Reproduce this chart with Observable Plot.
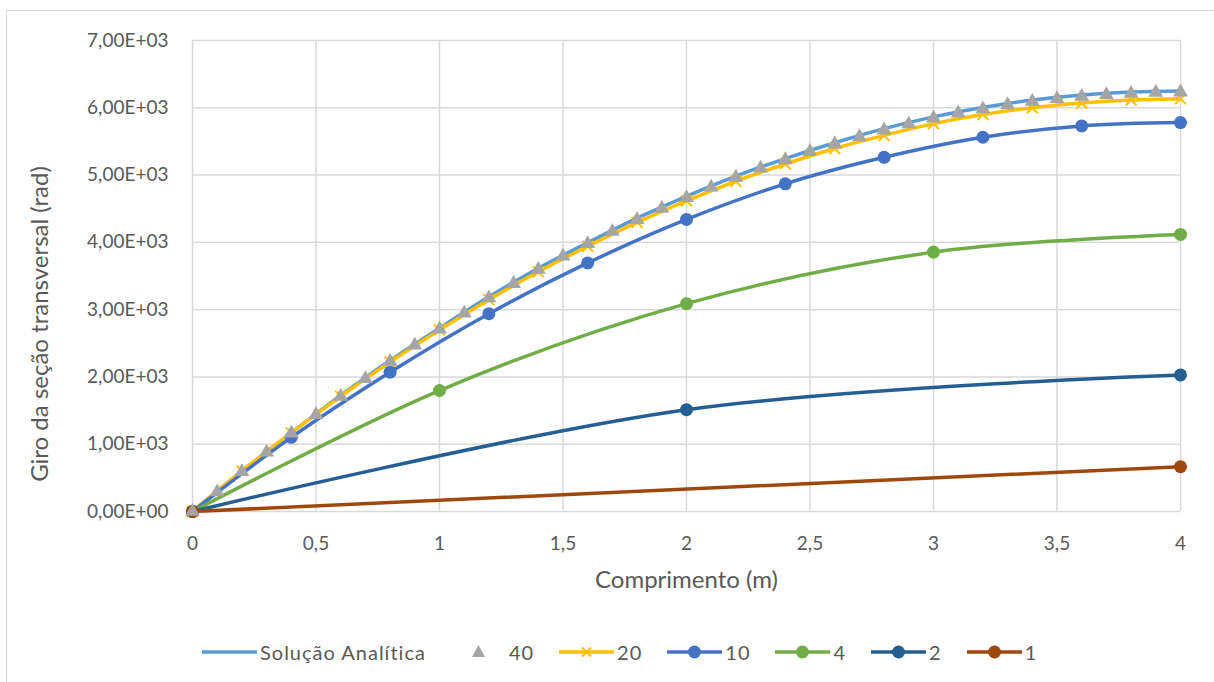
<!DOCTYPE html>
<html>
<head>
<meta charset="utf-8">
<script src="https://cdn.jsdelivr.net/npm/d3@7"></script>
<script src="https://cdn.jsdelivr.net/npm/@observablehq/plot@0.6"></script>
<style>
  html, body { margin: 0; padding: 0; background: #fff; overflow: hidden; }
  #wrap { position: relative; width: 1214px; height: 682px; font-family: Lato, "Open Sans", sans-serif; color: #595959; }
  #frame { position: absolute; left: 6px; top: 10px; width: 1400px; height: 900px; border: 1.5px solid #d9d9d9; box-sizing: border-box; }
  #chart { position: absolute; left: 0; top: 0; }
  #legend { position: absolute; left: 202px; top: 638px; height: 28px; display: flex; align-items: center; font-size: 20px; letter-spacing: 1px; color: #595959; white-space: nowrap; }
  .item { display: flex; align-items: center; margin-right: 25px; }
  .item svg { margin-right: 3px; }
</style>
</head>
<body>
<div id="wrap">
  <div id="frame"></div>
  <div id="chart"></div>
  <div id="legend"></div>
</div>
<script>
// ---------- data ----------
const xTicks = [0, 0.5, 1, 1.5, 2, 2.5, 3, 3.5, 4];
const yTicks = [0, 1000, 2000, 3000, 4000, 5000, 6000, 7000];

const xAnalitica = [0, 0.2, 0.4, 0.6, 0.8, 1.0, 1.2, 1.4, 1.6, 1.8, 2.0, 2.2, 2.4, 2.6, 2.8, 3.0, 3.2, 3.4, 3.6, 3.8, 4.0];
const yAnalitica = [0, 600, 1170, 1725, 2245, 2725, 3190, 3615, 3995, 4360, 4685, 4985, 5245, 5480, 5690, 5865, 6005, 6115, 6190, 6235, 6250];

const x40 = [0, 0.1, 0.2, 0.3, 0.4, 0.5, 0.6, 0.7, 0.8, 0.9, 1.0, 1.1, 1.2, 1.3, 1.4, 1.5, 1.6, 1.7, 1.8, 1.9, 2.0,
             2.1, 2.2, 2.3, 2.4, 2.5, 2.6, 2.7, 2.8, 2.9, 3.0, 3.1, 3.2, 3.3, 3.4, 3.5, 3.6, 3.7, 3.8, 3.9, 4.0];
const y40 = [0, 290, 590, 880, 1162, 1440, 1710, 1972, 2230, 2470, 2710, 2945, 3173, 3387, 3596, 3794, 3980, 4160, 4335, 4505, 4663,
             4820, 4966, 5100, 5226, 5348, 5460, 5565, 5668, 5760, 5845, 5920, 5983, 6043, 6093, 6133, 6168, 6193, 6212, 6227, 6233];

const x20 = [0, 0.2, 0.4, 0.6, 0.8, 1.0, 1.2, 1.4, 1.6, 1.8, 2.0, 2.2, 2.4, 2.6, 2.8, 3.0, 3.2, 3.4, 3.6, 3.8, 4.0];
const y20 = [0, 605, 1170, 1712, 2222, 2698, 3148, 3562, 3942, 4298, 4618, 4908, 5165, 5395, 5590, 5765, 5900, 6000, 6070, 6115, 6135];

const x10 = [0, 0.4, 0.8, 1.2, 1.6, 2.0, 2.4, 2.8, 3.2, 3.6, 4.0];
const y10 = [0, 1102, 2071, 2940, 3694, 4341, 4870, 5264, 5562, 5731, 5780];

const x4 = [0, 1, 2, 3, 4];
const y4 = [0, 1798, 3089, 3855, 4118];

const x2 = [0, 2, 4];
const y2 = [0, 1513, 2030];

const x1 = [0, 4];
const y1 = [0, 665];

const seriesNames = ["Solução Analítica", "40", "20", "10", "4", "2", "1"];
const seriesColors = ["#5B9BD5", "#A5A5A5", "#FFC000", "#4472C4", "#70AD47", "#255E91", "#9E480E"];

const xLabel = "Comprimento (m)";
const yLabel = "Giro da seção transversal (rad)";

// ---------- helpers ----------
const zip = (xs, ys) => xs.map((x, i) => ({x, y: ys[i]}));
const dA = zip(xAnalitica, yAnalitica);
const d40 = zip(x40, y40);
const d20 = zip(x20, y20);
const d10 = zip(x10, y10);
const d4 = zip(x4, y4);
const d2 = zip(x2, y2);
const d1 = zip(x1, y1);
const col = Object.fromEntries(seriesNames.map((n, i) => [n, seriesColors[i]]));

const fmtX = d => String(d).replace(".", ",");
const fmtY = d => {
  if (d === 0) return "0,00E+00";
  const e = Math.floor(Math.log10(Math.abs(d)));
  const m = d / Math.pow(10, e);
  return m.toFixed(2).replace(".", ",") + "E+" + String(e).padStart(2, "0");
};

const LW = 3.5;
const curve = "cardinal";

const chart = Plot.plot({
  width: 1214,
  height: 620,
  marginLeft: 192,
  marginRight: 34,
  marginTop: 40,
  marginBottom: 109,
  style: {fontFamily: "Lato, 'Open Sans', sans-serif", fontSize: "19px", color: "#595959", background: "transparent"},
  x: {domain: [0, 4], axis: null},
  y: {domain: [0, 7000], axis: null},
  marks: [
    Plot.gridX(xTicks, {stroke: "#d9d9d9", strokeOpacity: 1, strokeWidth: 1.5}),
    Plot.gridY(yTicks, {stroke: "#d9d9d9", strokeOpacity: 1, strokeWidth: 1.5}),
    Plot.axisX(xTicks, {tickSize: 0, tickPadding: 25, tickFormat: fmtX, fill: "#595959", fontSize: 19, label: null}),
    Plot.axisY(yTicks, {tickSize: 0, tickPadding: 24, tickFormat: fmtY, fill: "#595959", fontSize: 19, label: null, style: {letterSpacing: "0.5px"}}),
    Plot.text([xLabel], {frameAnchor: "bottom", dy: 69, text: d => d, fontSize: 24, fill: "#595959", lineAnchor: "middle", textAnchor: "middle", style: {letterSpacing: "2.2px"}}),
    Plot.text([yLabel], {frameAnchor: "left", dx: -152, dy: 48, rotate: -90, text: d => d, fontSize: 24, fill: "#595959", lineAnchor: "middle", textAnchor: "middle", style: {letterSpacing: "2.2px"}}),

    Plot.line(dA, {x: "x", y: "y", stroke: col["Solução Analítica"], strokeWidth: LW, curve}),
    Plot.line(d20, {x: "x", y: "y", stroke: col["20"], strokeWidth: LW, curve}),
    Plot.dot(d20, {x: "x", y: "y", symbol: "times", r: 5, stroke: col["20"], strokeWidth: 2}),
    Plot.line(d10, {x: "x", y: "y", stroke: col["10"], strokeWidth: LW, curve}),
    Plot.dot(d10, {x: "x", y: "y", r: 6.5, fill: col["10"]}),
    Plot.line(d4, {x: "x", y: "y", stroke: col["4"], strokeWidth: LW, curve}),
    Plot.dot(d4, {x: "x", y: "y", r: 6.5, fill: col["4"]}),
    Plot.line(d2, {x: "x", y: "y", stroke: col["2"], strokeWidth: LW, curve}),
    Plot.dot(d2, {x: "x", y: "y", r: 6.5, fill: col["2"]}),
    Plot.line(d1, {x: "x", y: "y", stroke: col["1"], strokeWidth: LW, curve}),
    Plot.dot(d1, {x: "x", y: "y", r: 6.5, fill: col["1"]}),
    Plot.dot(d40, {x: "x", y: "y", symbol: "triangle", r: 5.5, fill: col["40"]})
  ]
});
document.getElementById("chart").appendChild(chart);

// ---------- legend ----------
const legend = document.getElementById("legend");
const NS = "http://www.w3.org/2000/svg";
seriesNames.forEach((name, i) => {
  const item = document.createElement("div");
  item.className = "item";
  const sw = document.createElementNS(NS, "svg");
  sw.setAttribute("width", 55);
  sw.setAttribute("height", 20);
  const c = seriesColors[i];
  let inner = "";
  if (name !== "40") inner += `<line x1="0" y1="10" x2="55" y2="10" stroke="${c}" stroke-width="3.5"/>`;
  if (name === "40") inner += `<path d="M27.5,3 L34,15 L21,15 Z" fill="${c}"/>`;
  else if (name === "20") inner += `<path d="M23,5.5 L32,14.5 M32,5.5 L23,14.5" stroke="${c}" stroke-width="2"/>`;
  else if (name !== "Solução Analítica") inner += `<circle cx="27.5" cy="10" r="6.5" fill="${c}"/>`;
  sw.innerHTML = inner;
  item.appendChild(sw);
  const t = document.createElement("span");
  t.textContent = name;
  item.appendChild(t);
  legend.appendChild(item);
});
</script>
</body>
</html>
